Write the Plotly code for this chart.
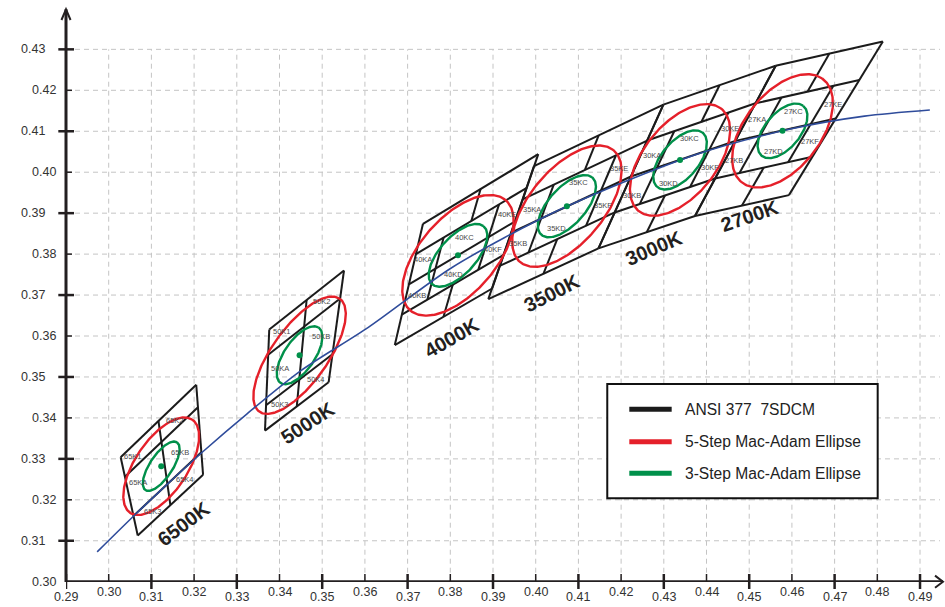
import numpy as np
import plotly.graph_objects as go

# ---------------- data (CIE 1931 x, y) ----------------
cct_names = ["6500K", "5000K", "4000K", "3500K", "3000K", "2700K"]
quad_type = ["A", "A", "B", "B", "B", "B"]

# ANSI C78.377 quadrangle corners
tl_x = [0.3028, 0.3376, 0.3736, 0.3996, 0.4299, 0.4562]
tl_y = [0.3304, 0.3616, 0.3874, 0.4015, 0.4165, 0.4260]
tr_x = [0.3205, 0.3551, 0.4006, 0.4299, 0.4562, 0.4813]
tr_y = [0.3481, 0.3760, 0.4044, 0.4165, 0.4260, 0.4319]
br_x = [0.3221, 0.3515, 0.3898, 0.4147, 0.4373, 0.4593]
br_y = [0.3261, 0.3487, 0.3716, 0.3814, 0.3893, 0.3944]
bl_x = [0.3068, 0.3366, 0.3670, 0.3889, 0.4147, 0.4373]
bl_y = [0.3113, 0.3369, 0.3578, 0.3690, 0.3814, 0.3893]

center_x = [0.3123, 0.3447, 0.3818, 0.4073, 0.4338, 0.4578]
center_y = [0.3282, 0.3553, 0.3797, 0.3917, 0.4030, 0.4101]

# ellipses (semi-axes in xy units, angle in degrees)
red_a = [0.0135, 0.0167, 0.0175, 0.0175, 0.0158, 0.0158]
red_b = [0.0062, 0.0066, 0.0090, 0.0088, 0.0086, 0.0090]
red_angle = [58, 56, 51, 52, 53, 54]
green_a = [0.0069, 0.0081, 0.0093, 0.0092, 0.0085, 0.0078]
green_b = [0.0027, 0.0036, 0.0044, 0.0044, 0.0044, 0.0042]
green_angle = [58, 57, 50, 50, 52, 52]

# Planckian locus
locus_x = [0.2973, 0.3064, 0.3135, 0.3221, 0.3324, 0.3451, 0.3608, 0.3805,
           0.4053, 0.4369, 0.4599, 0.4770, 0.4923]
locus_y = [0.3073, 0.3166, 0.3236, 0.3318, 0.3410, 0.3516, 0.3621, 0.3768,
           0.3907, 0.4041, 0.4106, 0.4137, 0.4152]

# sub-bin labels
bin_label = ["65K1", "65K2", "65KA", "65KB", "65K3", "65K4",
             "50K1", "50K2", "50KA", "50KB", "50K3", "50K4",
             "40KA", "40KB", "40KC", "40KD", "40KE", "40KF",
             "35KA", "35KB", "35KC", "35KD", "35KE", "35KF",
             "30KA", "30KB", "30KC", "30KD", "30KE", "30KF",
             "27KA", "27KB", "27KC", "27KD", "27KE", "27KF"]
bin_x = [0.3058, 0.3155, 0.3069, 0.3167, 0.3104, 0.3179,
         0.3405, 0.3499, 0.3401, 0.3497, 0.3401, 0.3486,
         0.3737, 0.3721, 0.3834, 0.3807, 0.3932, 0.3901,
         0.3991, 0.3959, 0.4100, 0.4048, 0.4196, 0.4158,
         0.4272, 0.4225, 0.4361, 0.4311, 0.4455, 0.4408,
         0.4518, 0.4465, 0.4603, 0.4557, 0.4697, 0.4642]
bin_y = [0.3305, 0.3393, 0.3243, 0.3315, 0.3171, 0.3250,
         0.3611, 0.3684, 0.3521, 0.3598, 0.3433, 0.3494,
         0.3786, 0.3698, 0.3841, 0.3751, 0.3896, 0.3812,
         0.3910, 0.3826, 0.3974, 0.3863, 0.4010, 0.3918,
         0.4042, 0.3944, 0.4083, 0.3973, 0.4107, 0.4012,
         0.4128, 0.4028, 0.4148, 0.4050, 0.4166, 0.4075]

# CCT labels
cct_text_x = [0.3175, 0.3466, 0.3802, 0.4038, 0.4277, 0.4500]
cct_text_y = [0.3141, 0.3388, 0.3596, 0.3706, 0.3816, 0.3893]
cct_text_angle = [37, 33, 30, 27, 23, 19]

x_ticks = [0.29, 0.30, 0.31, 0.32, 0.33, 0.34, 0.35, 0.36, 0.37, 0.38, 0.39,
           0.40, 0.41, 0.42, 0.43, 0.44, 0.45, 0.46, 0.47, 0.48, 0.49]
y_ticks = [0.30, 0.31, 0.32, 0.33, 0.34, 0.35, 0.36, 0.37, 0.38, 0.39,
           0.40, 0.41, 0.42, 0.43]

legend_names = ["ANSI 377\u00a0 7SDCM", "5-Step Mac-Adam Ellipse", "3-Step Mac-Adam Ellipse"]

# ---------------- styles ----------------
BLACK = "#1b1b1b"
RED = "#e5202a"
GREEN = "#00904a"
BLUE = "#2f4c9b"
GRID = "#c4c4c4"
FONT = "Liberation Sans, Arial, sans-serif"
legend_colors = [BLACK, RED, GREEN]

X0, X1 = 0.29, 0.49468
Y0, Y1 = 0.29993, 0.43961

# quad structure: fractional row lines and column dividers (u, v_start, v_end)
structure = {
    "A": ([0, 0.25, 0.75, 1], [(0, 0, 1), (1, 0, 1), (0.5, 0, 1)]),
    "B": ([0, 0.25, 0.5, 0.75, 1], [(0, 0, 1), (1, 0, 1), (0.5, 0, 0.25),
                                    (0.25, 0.25, 0.75), (0.75, 0.25, 0.75),
                                    (0.5, 0.75, 1)]),
}


def P(i, u, v):
    tx = (1 - u) * tl_x[i] + u * tr_x[i]
    ty = (1 - u) * tl_y[i] + u * tr_y[i]
    bx = (1 - u) * bl_x[i] + u * br_x[i]
    by = (1 - u) * bl_y[i] + u * br_y[i]
    return (1 - v) * tx + v * bx, (1 - v) * ty + v * by


def ellipse(cx, cy, a, b, ang):
    t = np.linspace(0, 2 * np.pi, 240)
    th = np.radians(ang)
    x = cx + a * np.cos(th) * np.cos(t) - b * np.sin(th) * np.sin(t)
    y = cy + a * np.sin(th) * np.cos(t) + b * np.cos(th) * np.sin(t)
    return x, y


fig = go.Figure()

# quadrangles
for i in range(len(cct_names)):
    rows, cols = structure[quad_type[i]]
    xs, ys = [], []
    for v in rows:
        p1 = P(i, 0, v)
        p2 = P(i, 1, v)
        xs += [p1[0], p2[0], None]
        ys += [p1[1], p2[1], None]
    for (u, v1, v2) in cols:
        p1 = P(i, u, v1)
        p2 = P(i, u, v2)
        xs += [p1[0], p2[0], None]
        ys += [p1[1], p2[1], None]
    fig.add_trace(go.Scatter(x=xs, y=ys, mode="lines",
                             line=dict(color=BLACK, width=2),
                             hoverinfo="skip", showlegend=False))

# ellipses
for i in range(len(cct_names)):
    ex, ey = ellipse(center_x[i], center_y[i], red_a[i], red_b[i], red_angle[i])
    fig.add_trace(go.Scatter(x=ex, y=ey, mode="lines",
                             line=dict(color=RED, width=2.4),
                             hoverinfo="skip", showlegend=False))
for i in range(len(cct_names)):
    ex, ey = ellipse(center_x[i], center_y[i], green_a[i], green_b[i], green_angle[i])
    fig.add_trace(go.Scatter(x=ex, y=ey, mode="lines",
                             line=dict(color=GREEN, width=2.4),
                             hoverinfo="skip", showlegend=False))

# Planckian locus
fig.add_trace(go.Scatter(x=locus_x, y=locus_y, mode="lines",
                         line=dict(color=BLUE, width=1.6, shape="spline", smoothing=0.8),
                         hoverinfo="skip", showlegend=False))

# centre dots
fig.add_trace(go.Scatter(x=center_x, y=center_y, mode="markers",
                         marker=dict(color=GREEN, size=6),
                         hoverinfo="skip", showlegend=False))

shapes = []
annotations = []

# grid
for xv in x_ticks[1:]:
    shapes.append(dict(type="line", xref="x", yref="y", x0=xv, x1=xv,
                       y0=y_ticks[0], y1=y_ticks[-1], layer="below",
                       line=dict(color=GRID, width=1, dash="5px,4px")))
for yv in y_ticks[1:]:
    shapes.append(dict(type="line", xref="paper", yref="y", x0=0, x1=1.0,
                       y0=yv, y1=yv, layer="below",
                       line=dict(color=GRID, width=1, dash="5px,4px")))

AX = "#231f20"
# axes
shapes.append(dict(type="line", xref="paper", yref="y", x0=0, x1=1.0034,
                   y0=0.30, y1=0.30, line=dict(color=AX, width=3)))
shapes.append(dict(type="line", xref="paper", yref="paper", x0=0, x1=0,
                   y0=0, y1=1.0012, line=dict(color=AX, width=3)))
# arrow heads
shapes.append(dict(type="path", xref="paper", yref="paper",
                   path="M 0.9943 0.0112 L 1.0034 0.0005 L 0.9943 -0.0100",
                   line=dict(color=AX, width=2)))
shapes.append(dict(type="path", xref="paper", yref="paper",
                   path="M -0.0052 0.9825 L 0 1.0012 L 0.0052 0.9825",
                   line=dict(color=AX, width=2)))

# ticks and tick labels
for k, xv in enumerate(x_ticks):
    major = (k % 2 == 0)
    shapes.append(dict(type="line", xref="x", yref="paper", x0=xv, x1=xv,
                       y0=-0.0122 if major else 0.0005, y1=0.014,
                       line=dict(color=AX, width=2.5 if major else 1.5)))
    annotations.append(dict(x=xv, y=-0.027 if major else -0.017, xref="x", yref="paper",
                            text=f"{xv:.2f}", showarrow=False, xanchor="center",
                            yanchor="middle", font=dict(family=FONT, size=12.5, color="#333")))
for k, yv in enumerate(y_ticks):
    major = (k % 2 == 1)
    shapes.append(dict(type="line", xref="paper", yref="y", y0=yv, y1=yv,
                       x0=-0.0088 if major else 0.0, x1=0.0092 if major else 0.0069,
                       line=dict(color=AX, width=2.5 if major else 1.5)))
    annotations.append(dict(x=-0.0221 if major else -0.0088, y=yv, xref="paper", yref="y",
                            text=f"{yv:.2f}", showarrow=False, xanchor="right",
                            yanchor="middle", font=dict(family=FONT, size=12.5, color="#333")))

# sub-bin labels
for lab, bx, by in zip(bin_label, bin_x, bin_y):
    annotations.append(dict(x=bx, y=by, xref="x", yref="y", text=lab, showarrow=False,
                            font=dict(family=FONT, size=7.5, color="#4a4a4a")))

# CCT labels
for lab, tx, ty, ta in zip(cct_names, cct_text_x, cct_text_y, cct_text_angle):
    annotations.append(dict(x=tx, y=ty, xref="x", yref="y", text=f"<b>{lab}</b>",
                            showarrow=False, textangle=-ta,
                            font=dict(family=FONT, size=20, color="#231f20")))

# legend box (manual)
shapes.append(dict(type="rect", xref="paper", yref="paper", x0=0.6193, x1=0.9287,
                   y0=0.1463, y1=0.3462, fillcolor="white", layer="above",
                   line=dict(color="#111", width=2)))
leg_y = [0.3019, 0.2453, 0.1900]
for name, col, ly in zip(legend_names, legend_colors, leg_y):
    shapes.append(dict(type="line", xref="paper", yref="paper", x0=0.6445, x1=0.6930,
                       y0=ly, y1=ly, layer="above", line=dict(color=col, width=5)))
    annotations.append(dict(x=0.7055, y=ly, xref="paper", yref="paper", text=name,
                            showarrow=False, xanchor="left", yanchor="middle",
                            font=dict(family=FONT, size=15.6, color="#222")))

fig.update_layout(
    width=945, height=607,
    margin=dict(l=66, r=5, t=10, b=25),
    paper_bgcolor="white", plot_bgcolor="white",
    xaxis=dict(range=[X0, X1], showgrid=False, zeroline=False, showline=False,
               showticklabels=False, ticks="", fixedrange=True),
    yaxis=dict(range=[Y0, Y1], showgrid=False, zeroline=False, showline=False,
               showticklabels=False, ticks="", fixedrange=True),
    shapes=shapes, annotations=annotations, showlegend=False,
)

fig.write_html("out.html", config={"displayModeBar": False},
               post_script="document.body.style.margin='0px';document.body.style.overflow='hidden';")
